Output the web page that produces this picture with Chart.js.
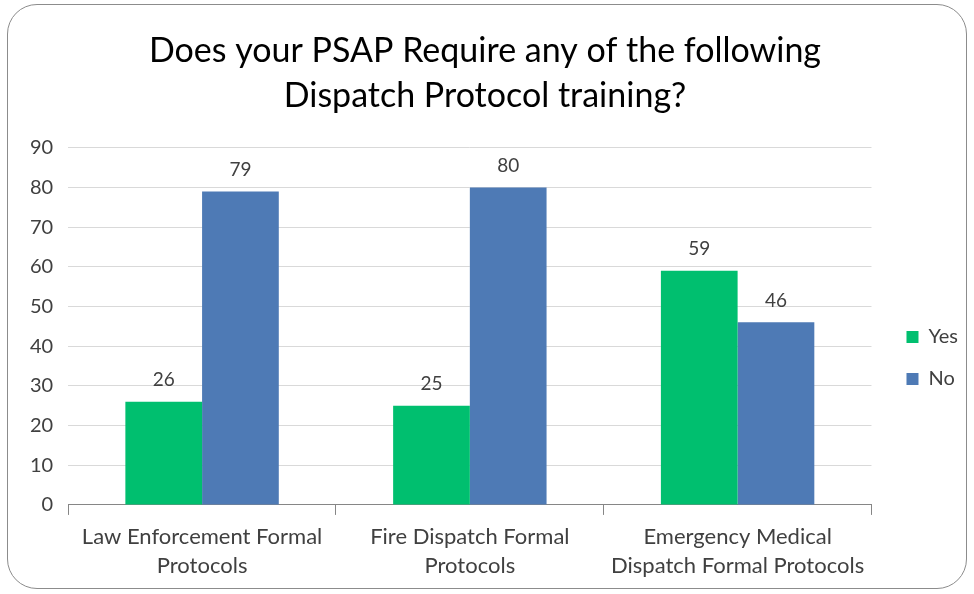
<!DOCTYPE html>
<html>
<head>
<meta charset="utf-8">
<script src="https://cdn.jsdelivr.net/npm/chart.js@4"></script>
<style>
  html, body { margin: 0; padding: 0; background: #fff; }
  #box {
    position: absolute; left: 7px; top: 4px; width: 960px; height: 585px;
    border: 1.5px solid #8c8c8c; border-radius: 30px; box-sizing: border-box;
  }
  #wrap { position: absolute; left: 0; top: 0; width: 974px; height: 594px; }
</style>
</head>
<body>
<div id="box"></div>
<div id="wrap"><canvas id="chart"></canvas></div>
<script>
const categories = [
  ["Law Enforcement Formal", "Protocols"],
  ["Fire Dispatch Formal", "Protocols"],
  ["Emergency Medical", "Dispatch Formal Protocols"]
];
const yesValues = [26, 25, 59];
const noValues = [79, 80, 46];
const yTicks = [0, 10, 20, 30, 40, 50, 60, 70, 80, 90];

const fontFamily = "Lato, 'Open Sans', sans-serif";

// draw value above each bar
const valueLabels = {
  id: "valueLabels",
  afterDatasetsDraw(chart) {
    const ctx = chart.ctx;
    ctx.save();
    ctx.fillStyle = "#404040";
    ctx.font = "19px " + fontFamily;
    ctx.textAlign = "center";
    ctx.textBaseline = "bottom";
    chart.data.datasets.forEach((ds, i) => {
      chart.getDatasetMeta(i).data.forEach((bar, j) => {
        ctx.fillText(ds.data[j], bar.x, bar.y - 12);
      });
    });
    ctx.restore();
  }
};

// nudge the legend lower and right, like the original
const legendShift = {
  id: "legendShift",
  afterLayout(chart) {
    const lg = chart.legend;
    lg.top += 50; lg.bottom += 50;
    lg.left += 13; lg.right += 13;
  }
};

new Chart(document.getElementById("chart"), {
  type: "bar",
  data: {
    labels: categories,
    datasets: [
      { label: "Yes", data: yesValues, backgroundColor: "#00BF6F", categoryPercentage: 0.573, barPercentage: 1 },
      { label: "No", data: noValues, backgroundColor: "#4E7AB5", categoryPercentage: 0.573, barPercentage: 1 }
    ]
  },
  options: {
    responsive: true,
    maintainAspectRatio: false,
    animation: false,
    layout: { padding: { left: 15, right: 19, top: 29, bottom: 7 } },
    plugins: {
      title: {
        display: true,
        text: ["Does your PSAP Require any of the following", "Dispatch Protocol training?"],
        color: "#000",
        font: { family: fontFamily, size: 34, weight: "normal", lineHeight: 1.32 },
        padding: { top: 0, bottom: 29 }
      },
      legend: {
        position: "right",
        labels: {
          boxWidth: 12, boxHeight: 12, padding: 22,
          color: "#404040",
          font: { family: fontFamily, size: 20 }
        }
      },
      tooltip: { enabled: false }
    },
    scales: {
      x: {
        grid: { drawOnChartArea: false, drawTicks: true, tickLength: 10, offset: true, color: "#868686" },
        border: { display: true, color: "#868686" },
        ticks: { color: "#404040", font: { family: fontFamily, size: 22, lineHeight: 1.32 }, padding: 7 }
      },
      y: {
        min: 0, max: 90,
        afterBuildTicks(axis) { axis.ticks = yTicks.map(v => ({ value: v })); },
        grid: { color: "#d9d9d9", drawTicks: false },
        border: { display: false },
        ticks: { color: "#404040", font: { family: fontFamily, size: 20 }, padding: 15 }
      }
    }
  },
  plugins: [valueLabels, legendShift]
});
</script>
</body>
</html>
